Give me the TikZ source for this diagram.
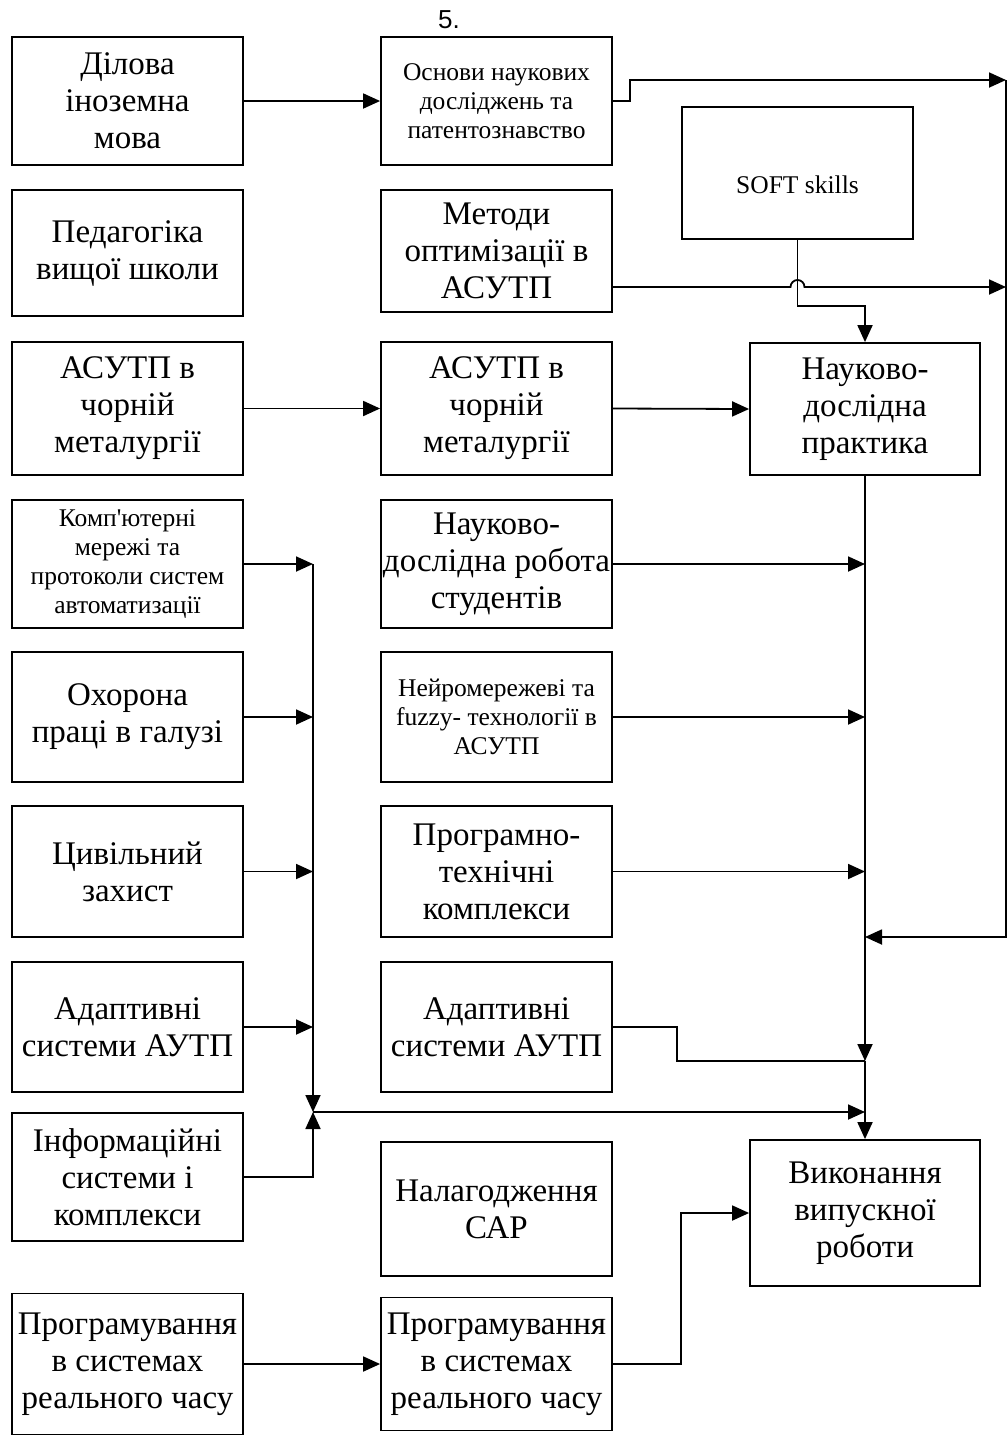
\documentclass[tikz,border=0pt]{standalone}
\usepackage{fontspec}
\setmainfont{Liberation Serif}
\newfontfamily\numfont{Liberation Sans}
\usetikzlibrary{arrows.meta}

\begin{document}
\begin{tikzpicture}[
    x=1pt, y=-1pt,
    line width=1.8pt,
    course/.style={draw, rectangle, minimum width=231pt, minimum height=128pt, inner sep=1pt, align=center, font=\fontsize{33}{37}\selectfont},
    smallcourse/.style={course, font=\fontsize{25.5}{29}\selectfont},
    link/.style={-{Triangle[length=17pt,width=15pt]}}
]
\useasboundingbox (0,0) rectangle (1008,1436);

% Page number
\node[font=\numfont\fontsize{26}{30}\selectfont] (pagenum) at (449,20) {5.};

% Left column
\node[course] (L1) at (127.5,101) {Ділова\\іноземна\\мова};
\node[course, minimum height=126pt] (L2) at (127.5,253) {Педагогіка\\вищої школи};
\node[course, minimum height=133pt] (L3) at (127.5,408.5) {АСУТП в\\чорній\\металургії};
\node[smallcourse] (L4) at (127.5,564) {Комп\textquotesingle ютерні\\мережі та\\протоколи систем\\автоматизації};
\node[course, minimum height=130pt] (L5) at (127.5,717) {Охорона\\праці в галузі};
\node[course, minimum height=131pt] (L6) at (127.5,871.5) {Цивільний\\захист};
\node[course, minimum height=130pt] (L7) at (127.5,1027) {Адаптивні\\системи АУТП};
\node[course] (L8) at (127.5,1177) {Інформаційні\\системи і\\комплекси};
\node[course, minimum height=141pt] (L9) at (127.5,1364) {Програмування\\в системах\\реального часу};

% Middle column
\node[smallcourse] (M1) at (496.5,101) {Основи наукових\\досліджень та\\патентознавство};
\node[course, minimum height=122pt] (M2) at (496.5,251) {Методи\\оптимізації в\\АСУТП};
\node[course, minimum height=133pt] (M3) at (496.5,408.5) {АСУТП в\\чорній\\металургії};
\node[course] (M4) at (496.5,564) {Науково-\\дослідна робота\\студентів};
\node[smallcourse, minimum height=130pt] (M5) at (496.5,717) {Нейромережеві та\\fuzzy- технології в\\АСУТП};
\node[course, minimum height=131pt] (M6) at (496.5,871.5) {Програмно-\\технічні\\комплекси};
\node[course, minimum height=130pt] (M7) at (496.5,1027) {Адаптивні\\системи АУТП};
\node[course, minimum height=134pt] (M8) at (496.5,1209) {Налагодження\\САР};
\node[course, minimum height=133pt] (M9) at (496.5,1364) {Програмування\\в системах\\реального часу};

% Right column
\node[smallcourse, minimum height=132pt,
      label={[font=\fontsize{25.5}{29}\selectfont, yshift=-12pt]center:SOFT skills}] (soft) at (797.5,173) {};
\node[course, minimum width=230pt, minimum height=132pt] (P) at (865,409) {Науково-\\дослідна\\практика};
\node[course, minimum width=230pt, minimum height=146pt] (V) at (865,1213) {Виконання\\випускної\\роботи};

% Bus points
\coordinate (rtop) at (1006,80);
\coordinate (rmid) at (1006,287);
\coordinate (lbus) at (313,1112);
\coordinate (adapt) at (865,1061);

% Straight links
\draw[link] (L1.east) -- (M1.west);
\draw[link] (L3.east) -- (M3.west);
\draw[link] (M3.east) -- (P.west);
\draw[link] (L9.east) -- (M9.west);

% Outer loop on the right
\draw[link] (M1.east) -- ++(17,0) |- (rtop);
\draw[link] (M2.east |- rmid) -- ([xshift=-7pt]soft.south |- rmid)
    arc[start angle=180, end angle=0, radius=7pt] -- (rmid);
\draw[link] (rtop) |- (P.south |- 0,937);
\draw[link] (soft.south) -- ++(0,66) -| (P.north);

% Left bus
\draw[link] (L4.east) -- (L4.east -| lbus);
\draw[link] (L5.east) -- (L5.east -| lbus);
\draw[link] (L6.east) -- (L6.east -| lbus);
\draw[link] (L7.east) -- (L7.east -| lbus);
\draw[link] (L4.east -| lbus) -- (lbus);
\draw[link] (L8.east) -| (lbus);
\draw[link] (lbus) -- (lbus -| P.south);

% Right bus
\draw[link] (M4.east) -- (M4.east -| P.south);
\draw[link] (M5.east) -- (M5.east -| P.south);
\draw[link] (M6.east) -- (M6.east -| P.south);
\draw (M7.east) -- ++(64,0) |- (adapt);
\draw[link] (P.south) -- (adapt);
\draw[link] (adapt) -- (V.north);

% Programming to thesis
\draw[link] (M9.east) -- ++(68,0) |- (V.west);

\end{tikzpicture}
\end{document}
